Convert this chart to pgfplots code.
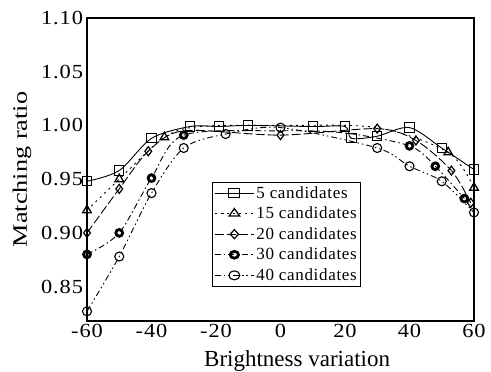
\documentclass[border=0pt]{standalone}
\usepackage{fontspec}
\setmainfont{Liberation Serif}
\newfontfamily\trk{Liberation Serif}[LetterSpace=4]
\usepackage{pgfplots}
\pgfplotsset{compat=1.18}
\begin{document}
\begin{tikzpicture}
\begin{axis}[
  scale only axis,
  width=387pt, height=303pt,
  xmin=-60, xmax=60, ymin=0.818, ymax=1.10,
  xtick={-60,-40,-20,0,20,40,60},
  xticklabels={-60,-40,-20,0,20,40,60},
  ytick={0.85,0.90,0.95,1.00,1.05,1.10},
  yticklabels={0.85,0.90,0.95,1.00,1.05,1.10},
  major tick length=0pt,
  axis line style={line width=1.2pt},
  tick label style={font=\fontsize{20}{22}\selectfont\trk, xscale=1.12},
  xlabel={Brightness variation},
  ylabel={Matching ratio},
  xlabel style={font=\fontsize{23}{25}\selectfont, at={(axis description cs:0.543,-0.133)}, anchor=center},
  ylabel style={font=\fontsize{20.5}{22}\selectfont, at={(axis description cs:-0.168,0.5)}, anchor=center, xscale=1.28},
  legend style={at={(0.323,0.459)}, anchor=north west, draw=black, line width=0.8pt,
    font=\fontsize{17}{19}\selectfont\trk, row sep=3.3pt, inner sep=2pt, cells={anchor=west, xscale=1.22}},
  legend cell align=left,
  legend image code/.code={\draw[#1, mark indices={2}] plot coordinates {(0pt,0pt) (16pt,0pt) (32pt,0pt)};},
  every axis plot/.append style={black, line width=0.9pt, smooth, tension=0.5},
]
% 5 candidates
\addplot[solid, mark=square, mark size=4.6pt, mark options={solid, line width=1pt, fill=white}] coordinates {
(-60,0.948) (-50,0.958) (-40,0.988) (-28,0.999) (-19,0.999) (-10,1.000) (10,0.999) (20,0.999) (22,0.988) (30,0.990) (40,0.998) (50,0.979) (60,0.959)};
\addlegendentry{5 candidates}
% 15 candidates
\addplot[dash pattern=on 2pt off 4pt, mark=triangle, mark size=5pt, mark indices={1,2,3,7,8}, mark options={solid, line width=1.3pt}] coordinates {
(-60,0.921) (-50,0.950) (-36,0.989) (-25,0.999) (0,1.000) (30,0.998) (52,0.975) (60,0.942)};
\addlegendentry{15 candidates}
% 20 candidates
\addplot[dash pattern=on 9pt off 3pt, mark=diamond, mark size=4.5pt, mark indices={1,2,3,5,6,7,8,9}, mark options={solid, line width=1.2pt, fill=white}] coordinates {
(-60,0.900) (-50,0.941) (-41,0.976) (-30,0.995) (0,0.991) (30,0.997) (42,0.986) (53,0.958) (59,0.928)};
\addlegendentry{20 candidates}
% 30 candidates
\addplot[dash pattern=on 6pt off 3pt on 1.5pt off 3pt, mark=o, mark size=3.4pt, mark indices={1,2,3,4,7,8,9}, mark options={solid, line width=2.8pt}] coordinates {
(-60,0.880) (-50,0.900) (-40,0.951) (-30,0.991) (0,0.995) (20,0.993) (40,0.981) (48,0.962) (57,0.932)};
\addlegendentry{30 candidates}
% 40 candidates
\addplot[dash pattern=on 6pt off 3pt on 1.5pt off 3pt on 1.5pt off 3pt, mark=o, mark size=4.5pt, mark options={solid, line width=1.1pt, fill=white}] coordinates {
(-60,0.827) (-50,0.878) (-40,0.937) (-30,0.979) (-17,0.992) (0,0.998) (30,0.979) (40,0.962) (50,0.948) (60,0.919)};
\addlegendentry{40 candidates}
\end{axis}
\pgfresetboundingbox
\path (-87pt,-51pt) rectangle (404pt,321pt);
\end{tikzpicture}
\end{document}
